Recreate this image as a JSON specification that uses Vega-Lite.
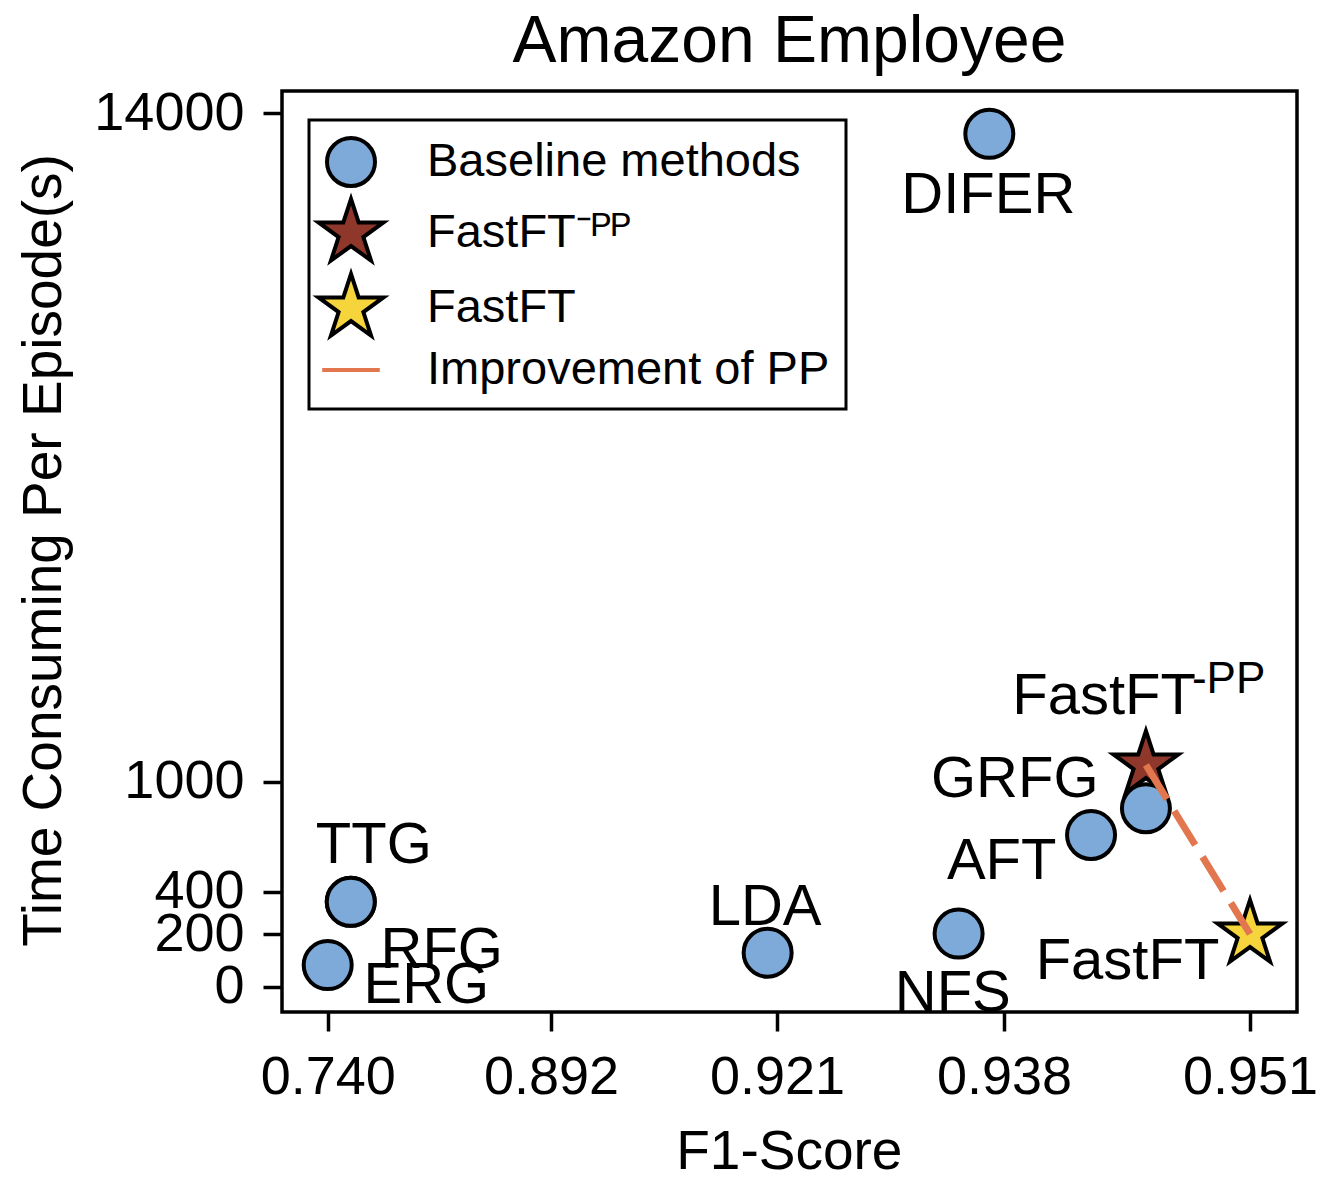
{
  "$schema": "https://vega.github.io/schema/vega-lite/v6.json",
  "autosize": {"type": "none"},
  "padding": {"left": 282, "top": 91, "right": 33, "bottom": 170},
  "width": 1015,
  "height": 921,
  "background": "white",
  "title": {"text": "Amazon Employee", "fontSize": 66, "font": "Liberation Sans", "fontWeight": "normal", "color": "black", "anchor": "middle", "baseline": "alphabetic", "offset": -42},
  "data": {"values": [
    {"method": "DIFER", "f1": 0.9369, "time": 13600, "type": "Baseline methods"},
    {"method": "TTG", "f1": 0.7557, "time": 352, "type": "Baseline methods"},
    {"method": "RFG", "f1": 0.7557, "time": 352, "type": "Baseline methods"},
    {"method": "ERG", "f1": 0.740, "time": 82, "type": "Baseline methods"},
    {"method": "LDA", "f1": 0.9198, "time": 129, "type": "Baseline methods"},
    {"method": "NFS", "f1": 0.9346, "time": 202, "type": "Baseline methods"},
    {"method": "AFT", "f1": 0.9426, "time": 709, "type": "Baseline methods"},
    {"method": "GRFG", "f1": 0.9455, "time": 855, "type": "Baseline methods"},
    {"method": "FastFT-PP", "f1": 0.9455, "time": 1325, "type": "FastFT-PP"},
    {"method": "FastFT", "f1": 0.951, "time": 200, "type": "FastFT"}
  ]},
  "encoding": {
    "x": {"field": "f1", "type": "quantitative",
      "scale": {"type": "linear", "domain": [0.74, 0.892, 0.921, 0.938, 0.951], "range": [45.7, 269, 495, 722, 968], "nice": false, "zero": false},
      "axis": {"title": "F1-Score", "values": [0.74, 0.892, 0.921, 0.938, 0.951], "format": ".3f", "labelBaseline": "alphabetic", "labelPadding": 62, "titleBaseline": "alphabetic", "titleY": 156}},
    "y": {"field": "time", "type": "quantitative",
      "scale": {"type": "linear", "domain": [0, 200, 400, 1000, 14000], "range": [895.7, 843, 800.7, 690.7, 22.3], "nice": false, "zero": false},
      "axis": {"title": "Time Consuming Per Episode(s)", "values": [0, 200, 400, 1000, 14000], "format": "d", "labelPadding": 19, "titleBaseline": "alphabetic", "titleX": -222}}
  },
  "layer": [
    {
      "transform": [{"filter": "datum.type != 'Baseline methods'"}],
      "mark": {"type": "point", "filled": true, "opacity": 1, "size": 2304},
      "encoding": {
        "fill": {"field": "type", "type": "nominal", "scale": {"domain": ["Baseline methods", "FastFT-PP", "FastFT", "Improvement of PP"], "range": ["#7DAAD8", "#8E372A", "#F6D53C", "transparent"]}, "legend": {"title": null, "labelExpr": "datum.label == 'FastFT-PP' ? 'FastFT⁻ᴾᴾ' : (datum.label == 'Improvement of PP' ? 'Improvement of PP ' : datum.label)"}},
        "stroke": {"field": "type", "type": "nominal", "scale": {"domain": ["Baseline methods", "FastFT-PP", "FastFT", "Improvement of PP"], "range": ["black", "black", "black", "#E2774F"]}, "legend": {"title": null, "labelExpr": "datum.label == 'FastFT-PP' ? 'FastFT⁻ᴾᴾ' : (datum.label == 'Improvement of PP' ? 'Improvement of PP ' : datum.label)"}},
        "strokeWidth": {"field": "type", "type": "nominal", "scale": {"domain": ["Baseline methods", "FastFT-PP", "FastFT", "Improvement of PP"], "range": [4, 4, 4, 5]}, "legend": {"title": null, "labelExpr": "datum.label == 'FastFT-PP' ? 'FastFT⁻ᴾᴾ' : (datum.label == 'Improvement of PP' ? 'Improvement of PP ' : datum.label)"}},
        "shape": {"field": "type", "type": "nominal", "scale": {"domain": ["Baseline methods", "FastFT-PP", "FastFT", "Improvement of PP"], "range": ["circle", "M0,-1.42L0.3188,-0.4388L1.3505,-0.4388L0.5159,0.1676L0.8347,1.1488L0,0.5424L-0.8347,1.1488L-0.5159,0.1676L-1.3505,-0.4388L-0.3188,-0.4388Z", "M0,-1.42L0.3188,-0.4388L1.3505,-0.4388L0.5159,0.1676L0.8347,1.1488L0,0.5424L-0.8347,1.1488L-0.5159,0.1676L-1.3505,-0.4388L-0.3188,-0.4388Z", "M-1.2,0L1.2,0"]}, "legend": {"title": null, "labelExpr": "datum.label == 'FastFT-PP' ? 'FastFT⁻ᴾᴾ' : (datum.label == 'Improvement of PP' ? 'Improvement of PP ' : datum.label)"}}
      }
    },
    {
      "transform": [{"filter": "datum.type == 'Baseline methods'"}],
      "mark": {"type": "point", "filled": true, "opacity": 1, "size": 2304},
      "encoding": {
        "fill": {"field": "type", "type": "nominal"},
        "stroke": {"field": "type", "type": "nominal"},
        "strokeWidth": {"field": "type", "type": "nominal"},
        "shape": {"field": "type", "type": "nominal"}
      }
    },
    {
      "transform": [{"filter": "datum.type != 'Baseline methods'"}],
      "mark": {"type": "line", "color": "#E2774F", "strokeWidth": 7, "strokeDash": [40, 14]},
      "encoding": {}
    },
    {"transform": [{"filter": "datum.method == 'DIFER'"}], "mark": {"type": "text", "align": "center", "baseline": "alphabetic", "dx": -1, "dy": 79}, "encoding": {"text": {"field": "method"}}},
    {"transform": [{"filter": "datum.method == 'TTG'"}], "mark": {"type": "text", "align": "center", "baseline": "alphabetic", "dx": 23, "dy": -39}, "encoding": {"text": {"field": "method"}}},
    {"transform": [{"filter": "datum.method == 'RFG'"}], "mark": {"type": "text", "align": "center", "baseline": "alphabetic", "dx": 91, "dy": 66.6}, "encoding": {"text": {"field": "method"}}},
    {"transform": [{"filter": "datum.method == 'ERG'"}], "mark": {"type": "text", "align": "center", "baseline": "alphabetic", "dx": 98.6, "dy": 38.3}, "encoding": {"text": {"field": "method"}}},
    {"transform": [{"filter": "datum.method == 'LDA'"}], "mark": {"type": "text", "align": "center", "baseline": "alphabetic", "dx": -2.6, "dy": -27.7}, "encoding": {"text": {"field": "method"}}},
    {"transform": [{"filter": "datum.method == 'NFS'"}], "mark": {"type": "text", "align": "center", "baseline": "alphabetic", "dx": -5.8, "dy": 77}, "encoding": {"text": {"field": "method"}}},
    {"transform": [{"filter": "datum.method == 'AFT'"}], "mark": {"type": "text", "align": "center", "baseline": "alphabetic", "dx": -89.4, "dy": 44.3}, "encoding": {"text": {"field": "method"}}},
    {"transform": [{"filter": "datum.method == 'GRFG'"}], "mark": {"type": "text", "align": "center", "baseline": "alphabetic", "dx": -131.2, "dy": -11.6}, "encoding": {"text": {"field": "method"}}},
    {"transform": [{"filter": "datum.method == 'FastFT-PP'"}], "mark": {"type": "text", "align": "left", "baseline": "alphabetic", "dx": -133.7, "dy": -51, "text": "FastFT"}},
    {"transform": [{"filter": "datum.method == 'FastFT-PP'"}], "mark": {"type": "text", "align": "left", "baseline": "alphabetic", "dx": 46, "dy": -71.7, "fontSize": 44, "text": "-PP"}},
    {"transform": [{"filter": "datum.method == 'FastFT'"}], "mark": {"type": "text", "align": "center", "baseline": "alphabetic", "dx": -122.5, "dy": 45.3}, "encoding": {"text": {"field": "method"}}}
  ],
  "config": {
    "font": "Liberation Sans",
    "view": {"stroke": "black", "strokeWidth": 3.5},
    "axis": {"grid": false, "domain": false, "tickColor": "black", "tickWidth": 3.5, "tickSize": 19, "labelFontSize": 54, "labelColor": "black", "labelFont": "Liberation Sans", "titleFontSize": 55, "titleFont": "Liberation Sans", "titleFontWeight": "normal", "titleColor": "black", "labelFlush": false, "labelOverlap": false},
    "text": {"fontSize": 58, "font": "Liberation Sans", "color": "black"},
    "legend": {"orient": "none", "legendX": 27, "legendY": 29, "labelFontSize": 47, "labelFont": "Liberation Sans", "labelColor": "black", "symbolSize": 2304, "strokeColor": "black", "strokeWidth": 3, "padding": 16, "rowPadding": -4, "labelOffset": 50, "fillColor": "white", "cornerRadius": 0, "labelLimit": 0, "symbolOpacity": 1}
  }
}
